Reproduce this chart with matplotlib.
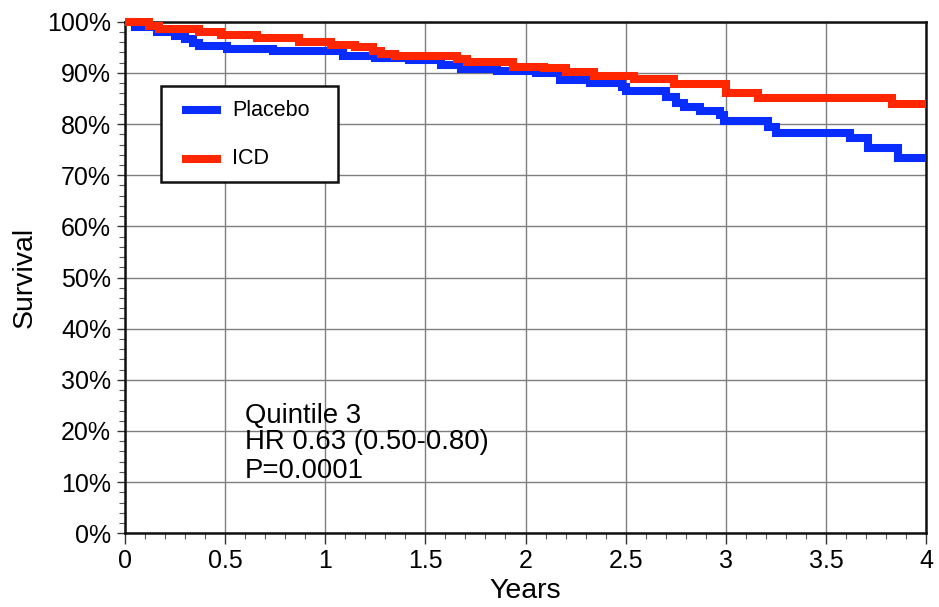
import matplotlib
matplotlib.use("Agg")
import matplotlib.pyplot as plt
from matplotlib.lines import Line2D
from matplotlib.patches import Rectangle
from matplotlib.ticker import MultipleLocator, FuncFormatter

plt.rcParams['font.family'] = ['Liberation Sans', 'DejaVu Sans']

# Kaplan-Meier step curves: event times (years) and survival (%)
placebo_t = [0, 0.05, 0.16, 0.25, 0.30, 0.34, 0.37, 0.51, 0.74, 1.09, 1.25, 1.42,
             1.58, 1.68, 1.86, 2.05, 2.17, 2.32, 2.48, 2.50, 2.70, 2.75, 2.79, 2.87,
             2.97, 2.99, 3.21, 3.25, 3.62, 3.71, 3.86, 4.0]
placebo_s = [100, 99.0, 97.9, 97.3, 96.7, 95.8, 95.2, 94.7, 94.3, 93.3, 92.9, 92.6,
             91.5, 90.8, 90.4, 90.0, 88.7, 88.0, 87.3, 86.4, 85.2, 84.2, 83.4, 82.6,
             81.8, 80.5, 79.5, 78.2, 77.2, 75.4, 73.4, 73.4]

icd_t = [0, 0.12, 0.17, 0.37, 0.48, 0.66, 0.87, 1.03, 1.15, 1.24, 1.28, 1.35,
         1.66, 1.71, 1.94, 2.09, 2.20, 2.34, 2.54, 2.74, 3.00, 3.16, 3.83, 4.0]
icd_s = [100, 99.2, 98.6, 98.0, 97.4, 96.8, 96.0, 95.4, 95.0, 94.3, 93.7, 93.3,
         92.7, 92.1, 91.2, 90.9, 90.2, 89.4, 88.8, 87.8, 86.1, 85.0, 83.9, 83.9]

series_labels = ["Placebo", "ICD"]
series_colors = ["#0a2dff", "#ff2600"]

x_ticks = [0, 0.5, 1, 1.5, 2, 2.5, 3, 3.5, 4]
x_ticklabels = ["0", "0.5", "1", "1.5", "2", "2.5", "3", "3.5", "4"]
y_ticks = list(range(0, 101, 10))

annotation_lines = ["Quintile 3", "HR 0.63 (0.50-0.80)", "P=0.0001"]

fig = plt.figure(figsize=(9.39, 6.07), dpi=100)
ax = fig.add_axes([0.1331, 0.1214, 0.8531, 0.8428])

lw = 5.8
for t, s, lab, col in zip([placebo_t, icd_t], [placebo_s, icd_s], series_labels, series_colors):
    ax.step(t, s, where="post", color=col, lw=lw, label=lab,
            solid_joinstyle="miter", solid_capstyle="butt", clip_on=False, zorder=3)

ax.set_xlim(0, 4)
ax.set_ylim(0, 100)
ax.set_xticks(x_ticks)
ax.set_xticklabels(x_ticklabels)
ax.set_yticks(y_ticks)
ax.yaxis.set_major_formatter(FuncFormatter(lambda v, p: f"{v:.0f}%"))
ax.xaxis.set_minor_locator(MultipleLocator(0.1))
ax.yaxis.set_minor_locator(MultipleLocator(2))

ax.grid(True, which="major", color="#7f7f7f", lw=1.0, zorder=1)
ax.set_axisbelow(True)

for sp in ax.spines.values():
    sp.set_linewidth(1.8)
    sp.set_color("#111111")

ax.tick_params(axis="both", which="major", direction="out", labelsize=18, color="#333333", width=1.0)
ax.tick_params(axis="x", which="major", length=8, pad=3)
ax.tick_params(axis="y", which="major", length=6, pad=4)
ax.tick_params(axis="both", which="minor", direction="out", length=4, color="#555555", width=0.8)

ax.set_xlabel("Years", fontsize=20.5, labelpad=4)
ax.set_ylabel("Survival", fontsize=20.5, labelpad=7)

# statistics block, one baseline per line
for y, line in zip([21.6, 16.4, 10.8], annotation_lines):
    ax.text(0.6, y, line, fontsize=19.8, ha="left", va="baseline")

# legend box with line keys, in axes fractions
ax.add_patch(Rectangle((0.045, 0.6873), 0.2205, 0.187, transform=ax.transAxes,
                       facecolor="white", edgecolor="#111111", lw=1.8, zorder=5))
for row_y, lab, col in zip([0.8268, 0.7322], series_labels, series_colors):
    ax.add_line(Line2D([0.0708, 0.1195], [row_y, row_y], transform=ax.transAxes,
                       color=col, lw=lw, solid_capstyle="butt", zorder=6))
    ax.text(0.1336, row_y, lab, transform=ax.transAxes, fontsize=15.5,
            ha="left", va="center", zorder=6)

fig.savefig("out.png", dpi=100)
